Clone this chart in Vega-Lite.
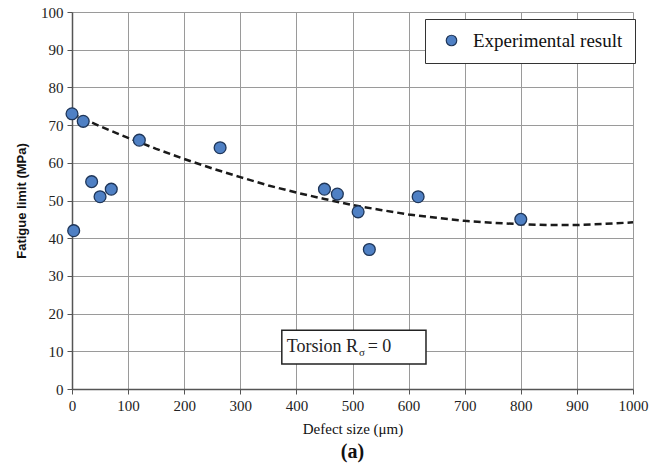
{
  "$schema": "https://vega.github.io/schema/vega-lite/v6.json",
  "width": 561,
  "height": 377,
  "autosize": {"type": "none"},
  "padding": {"left": 72, "top": 12, "right": 18, "bottom": 87},
  "background": "white",
  "datasets": {
    "points": [
      {"size": 0, "limit": 73, "series": "Experimental result"},
      {"size": 20, "limit": 71, "series": "Experimental result"},
      {"size": 3, "limit": 42, "series": "Experimental result"},
      {"size": 35, "limit": 55, "series": "Experimental result"},
      {"size": 50, "limit": 51, "series": "Experimental result"},
      {"size": 70, "limit": 53, "series": "Experimental result"},
      {"size": 120, "limit": 66, "series": "Experimental result"},
      {"size": 264, "limit": 64, "series": "Experimental result"},
      {"size": 450, "limit": 53, "series": "Experimental result"},
      {"size": 473, "limit": 51.7, "series": "Experimental result"},
      {"size": 510, "limit": 47, "series": "Experimental result"},
      {"size": 530, "limit": 37, "series": "Experimental result"},
      {"size": 617, "limit": 51, "series": "Experimental result"},
      {"size": 800, "limit": 45, "series": "Experimental result"}
    ],
    "trend": [
      {"size": 0, "limit": 73.0}, {"size": 50, "limit": 69.7}, {"size": 100, "limit": 66.6},
      {"size": 150, "limit": 63.7}, {"size": 200, "limit": 61.0}, {"size": 250, "limit": 58.5},
      {"size": 300, "limit": 56.2}, {"size": 350, "limit": 54.0}, {"size": 400, "limit": 52.1},
      {"size": 450, "limit": 50.4}, {"size": 500, "limit": 48.8}, {"size": 550, "limit": 47.5},
      {"size": 600, "limit": 46.3}, {"size": 650, "limit": 45.4}, {"size": 700, "limit": 44.6},
      {"size": 750, "limit": 44.1}, {"size": 800, "limit": 43.7}, {"size": 850, "limit": 43.5},
      {"size": 900, "limit": 43.5}, {"size": 950, "limit": 43.8}, {"size": 1000, "limit": 44.2}
    ],
    "one": [{"k": 1}]
  },
  "title": {
    "text": "(a)",
    "orient": "bottom",
    "font": "Liberation Serif",
    "fontSize": 20,
    "fontWeight": "bold",
    "color": "#111",
    "offset": 6
  },
  "encoding": {
    "x": {"type": "quantitative", "scale": {"domain": [0, 1000], "nice": false},
      "axis": {"values": [0,100,200,300,400,500,600,700,800,900,1000], "format": "d", "title": "Defect size (μm)", "titleFont": "Times New Roman", "titleFontSize": 15, "titleFontWeight": "normal", "titleColor": "#111", "titlePadding": 8, "labelFont": "Times New Roman", "labelFontSize": 15, "labelColor": "#222", "labelPadding": 4, "labelOverlap": false, "labelFlush": false, "gridColor": "#9a9a9a", "gridOpacity": 1, "domainColor": "#555", "domainWidth": 1.5, "tickColor": "#555", "tickSize": 5}},
    "y": {"type": "quantitative", "scale": {"domain": [0, 100], "nice": false},
      "axis": {"values": [0,10,20,30,40,50,60,70,80,90,100], "format": "d", "title": "Fatigue limit (MPa)", "titleFont": "Liberation Sans", "titleFontSize": 13, "titleFontWeight": "bold", "titleColor": "#111", "titlePadding": 12, "labelFont": "serif", "labelFontSize": 15, "labelColor": "#222", "labelPadding": 4, "labelOverlap": false, "labelFlush": false, "gridColor": "#9a9a9a", "gridOpacity": 1, "domainColor": "#555", "domainWidth": 1.5, "tickColor": "#555", "tickSize": 5}}
  },
  "config": {
    "view": {"stroke": null},
    "legend": {
      "strokeColor": "#333",
      "fillColor": "white",
      "padding": 12,
      "labelFont": "Liberation Serif",
      "labelFontSize": 19,
      "labelColor": "#111",
      "symbolSize": 110,
      "symbolStrokeWidth": 1.2,
      "labelOffset": 12,
      "symbolOffset": 5
    }
  },
  "layer": [
    {
      "data": {"name": "trend"},
      "mark": {"type": "line", "color": "#1a1a1a", "strokeWidth": 2.5, "strokeDash": [7, 4]},
      "encoding": {
        "x": {"field": "size", "type": "quantitative"},
        "y": {"field": "limit", "type": "quantitative"}
      }
    },
    {
      "data": {"name": "points"},
      "mark": {"type": "point", "filled": true, "size": 140, "stroke": "#1f3659", "strokeWidth": 1.3, "opacity": 1, "shape": "circle"},
      "encoding": {
        "x": {"field": "size", "type": "quantitative"},
        "y": {"field": "limit", "type": "quantitative"},
        "fill": {
          "field": "series", "type": "nominal",
          "scale": {"range": ["#4f80c4"]},
          "legend": {"title": null, "orient": "none", "legendX": 353, "legendY": 7, "symbolStrokeColor": "#1f3659", "symbolType": "circle"}
        }
      }
    },
    {
      "data": {"name": "one"},
      "mark": {"type": "rect", "fill": "white", "stroke": "#222", "strokeWidth": 1.5},
      "encoding": {
        "x": {"datum": 374, "type": "quantitative"},
        "x2": {"datum": 631},
        "y": {"datum": 15.6, "type": "quantitative"},
        "y2": {"datum": 6.6}
      }
    },
    {
      "data": {"name": "one"},
      "mark": {"type": "text", "align": "right", "baseline": "middle", "font": "Liberation Serif", "fontSize": 18, "color": "#222"},
      "encoding": {
        "x": {"datum": 510, "type": "quantitative"},
        "y": {"datum": 11.1, "type": "quantitative"},
        "text": {"value": "Torsion R"}
      }
    },
    {
      "data": {"name": "one"},
      "mark": {"type": "text", "align": "center", "baseline": "middle", "font": "Liberation Serif", "fontSize": 11, "color": "#222"},
      "encoding": {
        "x": {"datum": 517, "type": "quantitative"},
        "y": {"datum": 9.6, "type": "quantitative"},
        "text": {"value": "σ"}
      }
    },
    {
      "data": {"name": "one"},
      "mark": {"type": "text", "align": "left", "baseline": "middle", "font": "Liberation Serif", "fontSize": 18, "color": "#222"},
      "encoding": {
        "x": {"datum": 527, "type": "quantitative"},
        "y": {"datum": 11.1, "type": "quantitative"},
        "text": {"value": "= 0"}
      }
    }
  ]
}
